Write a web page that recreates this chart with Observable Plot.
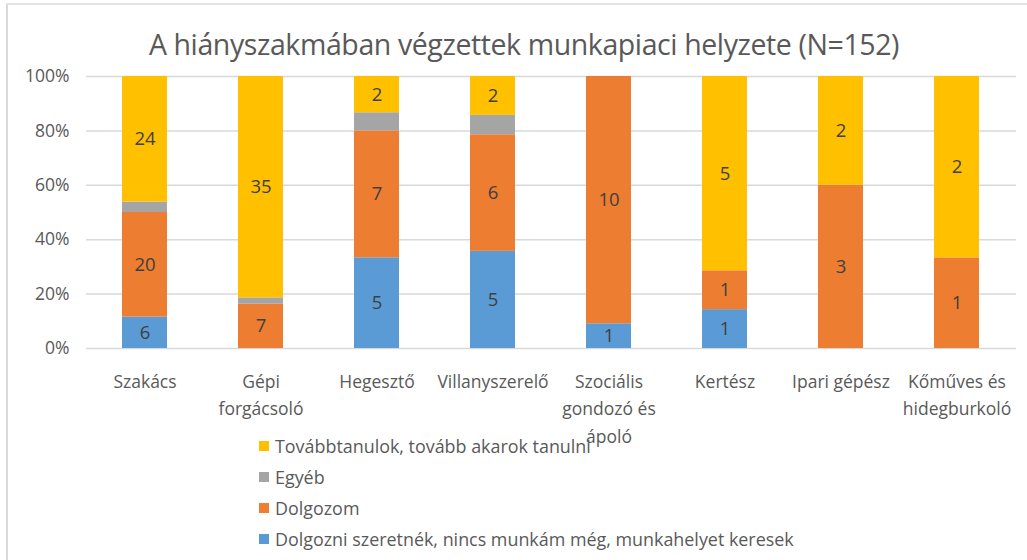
<!DOCTYPE html>
<html>
<head>
<meta charset="utf-8">
<script src="https://cdn.jsdelivr.net/npm/d3@7"></script>
<script src="https://cdn.jsdelivr.net/npm/@observablehq/plot@0.6"></script>
<style>
  html, body { margin: 0; padding: 0; background: #fff; }
  #wrap { position: relative; width: 1027px; height: 560px; overflow: hidden; font-family: "Open Sans", sans-serif; }
  #frameL { position: absolute; left: 6px; top: 3px; width: 2px; height: 557px; background: #d9d9d9; }
  #frameT { position: absolute; left: 6px; top: 3px; width: 1021px; height: 2px; background: #e3e3e3; }
  #title { position: absolute; left: 0; width: 1048px; top: 25px; text-align: center; font-size: 28.5px; color: #595959; letter-spacing: -0.4px; }
  #chart { position: absolute; left: 0; top: 60px; }
  #legend { position: absolute; left: 259px; top: 430px; color: #595959; font-size: 17.9px; }
  .item { height: 31px; display: flex; align-items: center; }
  .sw { width: 10px; height: 10px; margin-right: 6px; }
</style>
</head>
<body>
<div id="wrap">
  <div id="frameL"></div>
  <div id="frameT"></div>
  <div id="title"></div>
  <div id="chart"></div>
  <div id="legend"></div>
</div>
<script>
const titleText = "A hiányszakmában végzettek munkapiaci helyzete (N=152)";
const categories = ["Szakács", "Gépi forgácsoló", "Hegesztő", "Villanyszerelő", "Szociális gondozó és ápoló", "Kertész", "Ipari gépész", "Kőműves és hidegburkoló"];
const tickLabels = ["Szakács", "Gépi\nforgácsoló", "Hegesztő", "Villanyszerelő", "Szociális\ngondozó és\nápoló", "Kertész", "Ipari gépész", "Kőműves és\nhidegburkoló"];
const seriesNames = ["Dolgozni szeretnék, nincs munkám még, munkahelyet keresek", "Dolgozom", "Egyéb", "Továbbtanulok, tovább akarok tanulni"];
const seriesColors = ["#5B9BD5", "#ED7D31", "#A5A5A5", "#FFC000"];
const keresek = [6, 0, 5, 5, 1, 1, 0, 0];
const dolgozom = [20, 7, 7, 6, 10, 1, 3, 1];
const egyeb = [2, 1, 1, 1, 0, 0, 0, 0];
const tovabb = [24, 35, 2, 2, 0, 5, 2, 2];
const yTicks = [0, 0.2, 0.4, 0.6, 0.8, 1];

const seriesValues = [keresek, dolgozom, egyeb, tovabb];
const data = [];
categories.forEach((c, i) => {
  seriesNames.forEach((s, j) => {
    data.push({category: c, series: s, value: seriesValues[j][i]});
  });
});

document.getElementById("title").textContent = titleText;

const stackOpts = {x: "category", y: "value", z: "series", offset: "normalize", order: seriesNames};

const plot = Plot.plot({
  width: 1027,
  height: 390,
  marginLeft: 86,
  marginRight: 11,
  marginTop: 16,
  marginBottom: 102,
  style: {fontFamily: "Open Sans, sans-serif", background: "transparent"},
  x: {domain: categories, paddingInner: 0.61, paddingOuter: 0.305},
  y: {domain: [0, 1]},
  color: {domain: seriesNames, range: seriesColors},
  marks: [
    Plot.ruleY(yTicks, {stroke: "#d9d9d9", strokeWidth: 1.5}),
    Plot.barY(data, Plot.stackY({...stackOpts, fill: "series"})),
    Plot.text(data, Plot.stackY({...stackOpts,
      text: d => (d.series === "Egyéb" || d.value === 0) ? "" : String(d.value),
      fill: "#404040", fontSize: 18.5})),
    Plot.axisY({ticks: yTicks, tickFormat: d => Math.round(d * 100) + "%", tickSize: 0, tickPadding: 17, fontSize: 17.5, color: "#595959", label: null}),
    Plot.axisX({tickFormat: (d, i) => tickLabels[categories.indexOf(d)], tickSize: 0, tickPadding: 20, fontSize: 17.5, lineHeight: 1.57, color: "#595959", label: null, textAnchor: "middle"})
  ]
});
document.getElementById("chart").appendChild(plot);

const legend = document.getElementById("legend");
for (let j = seriesNames.length - 1; j >= 0; j--) {
  const item = document.createElement("div");
  item.className = "item";
  const sw = document.createElement("span");
  sw.className = "sw";
  sw.style.background = seriesColors[j];
  const t = document.createElement("span");
  t.textContent = seriesNames[j];
  item.appendChild(sw);
  item.appendChild(t);
  legend.appendChild(item);
}
</script>
</body>
</html>
